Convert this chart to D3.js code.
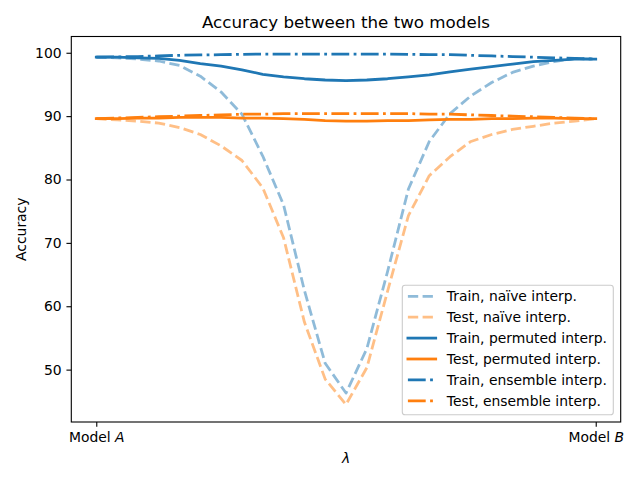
<!DOCTYPE html>
<html>
<head>
<meta charset="utf-8">
<script src="https://cdn.jsdelivr.net/npm/d3@7"></script>
<style>
  body { margin: 0; background: #fff; }
  svg { display: block; font-family: "DejaVu Sans", sans-serif; }
</style>
</head>
<body>
<script>
// interpolation coefficient, 25 steps from model A (0) to model B (1)
var lambdas = [0, 0.0417, 0.0833, 0.125, 0.1667, 0.2083, 0.25, 0.2917, 0.3333, 0.375,
               0.4167, 0.4583, 0.5, 0.5417, 0.5833, 0.625, 0.6667, 0.7083, 0.75,
               0.7917, 0.8333, 0.875, 0.9167, 0.9583, 1];

var naiveTrain = [99.3, 99.2, 99.0, 98.7, 98.0, 96.3, 93.8, 90.3, 83.7, 76.0,
                  62.5, 51.0, 46.3, 53.3, 65.5, 78.5, 86.0, 90.4, 93.2,
                  95.3, 96.9, 97.9, 98.6, 99.1, 99.0];
var naiveTest = [89.6, 89.4, 89.2, 88.9, 88.2, 87.1, 85.3, 83.0, 78.7, 70.8,
                 57.5, 48.5, 44.5, 50.3, 62.4, 74.3, 80.6, 83.6, 86.0,
                 87.1, 87.9, 88.4, 88.9, 89.2, 89.6];
var permTrain = [99.3, 99.3, 99.2, 99.1, 98.8, 98.3, 97.9, 97.3, 96.6, 96.2,
                 95.9, 95.7, 95.6, 95.7, 95.9, 96.2, 96.5, 97.0, 97.4,
                 97.8, 98.2, 98.6, 98.8, 99.0, 99.0];
var permTest = [89.6, 89.6, 89.7, 89.7, 89.8, 89.8, 89.8, 89.7, 89.7, 89.6,
                89.5, 89.3, 89.2, 89.2, 89.3, 89.3, 89.4, 89.5, 89.5,
                89.6, 89.6, 89.7, 89.7, 89.6, 89.6];
var ensTrain = [99.3, 99.35, 99.4, 99.5, 99.6, 99.65, 99.7, 99.75, 99.8, 99.8,
                99.8, 99.8, 99.8, 99.8, 99.8, 99.75, 99.7, 99.7, 99.6,
                99.5, 99.4, 99.3, 99.2, 99.1, 99.0];
var ensTest = [89.6, 89.7, 89.8, 89.9, 90.0, 90.1, 90.2, 90.3, 90.3, 90.4,
               90.4, 90.4, 90.4, 90.4, 90.4, 90.4, 90.3, 90.3, 90.2,
               90.1, 90.0, 89.9, 89.8, 89.7, 89.6];

var seriesLabels = ["Train, na\u00efve interp.", "Test, na\u00efve interp.",
                    "Train, permuted interp.", "Test, permuted interp.",
                    "Train, ensemble interp.", "Test, ensemble interp."];
var yTicks = [50, 60, 70, 80, 90, 100];
var xTicks = [0, 1];
var xTickNames = ["A", "B"];

var blue = "#1f77b4", orange = "#ff7f0e";
var lw = 2.78;
var dashed = "10.3,4.4", dashdot = "17.8,4.4,2.8,4.4";

var series = [
  { values: naiveTrain, color: blue,   dash: dashed,  alpha: 0.5 },
  { values: naiveTest,  color: orange, dash: dashed,  alpha: 0.5 },
  { values: permTrain,  color: blue,   dash: null,    alpha: 1 },
  { values: permTest,   color: orange, dash: null,    alpha: 1 },
  { values: ensTrain,   color: blue,   dash: dashdot, alpha: 1 },
  { values: ensTest,    color: orange, dash: dashdot, alpha: 1 }
];

var W = 640, H = 480;
var box = { left: 71.3, right: 620.7, top: 36.5, bottom: 422 };

// matplotlib style 5% margins round the data
var allVals = [].concat.apply([], series.map(function(s) { return s.values; }));
var yMin = d3.min(allVals), yMax = d3.max(allVals), yPad = (yMax - yMin) * 0.05;

var x = d3.scaleLinear().domain([-0.05, 1.05]).range([box.left, box.right]);
var y = d3.scaleLinear().domain([yMin - yPad, yMax + yPad]).range([box.bottom, box.top]);

var svg = d3.select("body").append("svg")
    .attr("width", W)
    .attr("height", H);

var plot = svg.append("g");

svg.append("clipPath").attr("id", "clip")
  .append("rect")
    .attr("x", box.left).attr("y", box.top)
    .attr("width", box.right - box.left).attr("height", box.bottom - box.top);

var line = d3.line()
    .x(function(d, i) { return x(lambdas[i]); })
    .y(function(d) { return y(d); });

plot.selectAll("path.series")
  .data(series)
  .enter()
  .append("path")
    .attr("class", "series")
    .attr("clip-path", "url(#clip)")
    .attr("d", function(d) { return line(d.values); })
    .attr("fill", "none")
    .attr("stroke", function(d) { return d.color; })
    .attr("stroke-opacity", function(d) { return d.alpha; })
    .attr("stroke-width", lw)
    .attr("stroke-linejoin", "round")
    .attr("stroke-linecap", function(d) { return d.dash ? "butt" : "square"; })
    .attr("stroke-dasharray", function(d) { return d.dash; });

// axes
var yAxis = d3.axisLeft(y).tickValues(yTicks).tickSize(4.86).tickPadding(4.86);
var xAxis = d3.axisBottom(x).tickValues(xTicks).tickSize(4.86).tickPadding(4.86)
    .tickFormat(function() { return ""; });

var gy = svg.append("g")
    .attr("transform", "translate(" + box.left + ",0)")
    .call(yAxis);
var gx = svg.append("g")
    .attr("transform", "translate(0," + box.bottom + ")")
    .call(xAxis);

[gx, gy].forEach(function(g) {
  g.select(".domain").remove();
  g.selectAll("line").attr("stroke", "#000").attr("stroke-width", 1.1);
  g.selectAll("text").attr("fill", "#000").style("font-size", "13.9px")
    .style("font-family", "DejaVu Sans");
});

gx.selectAll(".tick text").each(function(d, i) {
  var t = d3.select(this);
  t.append("tspan").text("Model ");
  t.append("tspan").style("font-style", "italic").text(xTickNames[i]);
});

// frame
svg.append("rect")
    .attr("x", box.left).attr("y", box.top)
    .attr("width", box.right - box.left).attr("height", box.bottom - box.top)
    .attr("fill", "none")
    .attr("stroke", "#000")
    .attr("stroke-width", 1.1);

// title and labels
svg.append("text")
    .attr("x", (box.left + box.right) / 2).attr("y", 28.2)
    .attr("text-anchor", "middle")
    .style("font-size", "16.7px")
    .text("Accuracy between the two models");

svg.append("text")
    .attr("x", (box.left + box.right) / 2).attr("y", 463.3)
    .attr("text-anchor", "middle")
    .style("font-size", "13.9px")
    .style("font-style", "italic")
    .text("\u03bb");

svg.append("text")
    .attr("transform", "translate(26," + (box.top + box.bottom) / 2 + ") rotate(-90)")
    .attr("text-anchor", "middle")
    .style("font-size", "13.9px")
    .text("Accuracy");

// legend
var leg = { x: 402.3, y: 285.3, w: 211, h: 129.4, row: 20.9, first: 11 };
var legend = svg.append("g");

legend.append("rect")
    .attr("x", leg.x).attr("y", leg.y)
    .attr("width", leg.w).attr("height", leg.h)
    .attr("rx", 2.8).attr("ry", 2.8)
    .attr("fill", "#fff").attr("fill-opacity", 0.8)
    .attr("stroke", "#cccccc").attr("stroke-width", 1.1);

var items = legend.selectAll("g.item")
  .data(series)
  .enter()
  .append("g")
    .attr("class", "item")
    .attr("transform", function(d, i) {
      return "translate(0," + (leg.y + leg.first + i * leg.row) + ")";
    });

items.append("line")
    .attr("x1", leg.x + 5.6).attr("x2", leg.x + 5.6 + 27.8)
    .attr("y1", 0).attr("y2", 0)
    .attr("stroke", function(d) { return d.color; })
    .attr("stroke-opacity", function(d) { return d.alpha; })
    .attr("stroke-width", lw)
    .attr("stroke-linecap", function(d) { return d.dash ? "butt" : "square"; })
    .attr("stroke-dasharray", function(d) { return d.dash; });

items.append("text")
    .attr("x", leg.x + 44.5)
    .attr("y", 0)
    .attr("dy", "0.36em")
    .style("font-size", "13.9px")
    .text(function(d, i) { return seriesLabels[i]; });
</script>
</body>
</html>
